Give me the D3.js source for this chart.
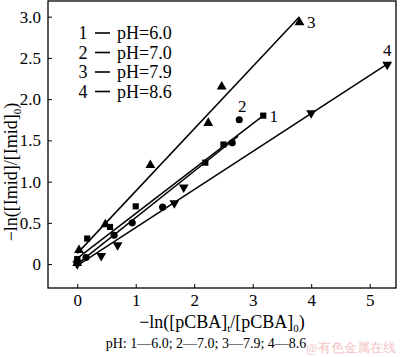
<!DOCTYPE html>
<html><head><meta charset="utf-8">
<script src="https://cdn.jsdelivr.net/npm/d3@7"></script>
<style>body{margin:0;background:#fff}svg{display:block}text{font-family:"Liberation Serif","Times New Roman",serif}</style>
</head><body>
<script>
const xTicks = [0,1,2,3,4,5];
const yTicks = [0,0.5,1.0,1.5,2.0,2.5,3.0];
const yTickLabels = ["0","0.5","1.0","1.5","2.0","2.5","3.0"];
const seriesNames = ["1","2","3","4"];
const legendLabels = ["pH=6.0","pH=7.0","pH=7.9","pH=8.6"];
const markers = ["square","circle","triUp","triDown"];
const pts1 = [[0,0.06],[0.17,0.31],[0.56,0.45],[1.0,0.70],[2.19,1.23],[2.5,1.45],[3.18,1.80]];
const pts2 = [[0,0.04],[0.15,0.08],[0.63,0.35],[0.94,0.50],[1.46,0.69],[2.65,1.47],[2.77,1.75]];
const pts3 = [[0,0.01],[0.03,0.17],[0.48,0.48],[1.25,1.20],[2.24,1.71],[2.47,2.15],[3.8,2.93]];
const pts4 = [[0,0.0],[0.41,0.10],[0.69,0.23],[1.66,0.74],[1.82,0.93],[4.0,1.83],[5.3,2.42]];
const fit1 = [[0,0.07],[3.18,1.80]];
const fit2 = [[0,0.0],[2.75,1.55]];
const fit3 = [[0,0.13],[3.8,3.0]];
const fit4 = [[0,-0.02],[5.35,2.45]];
const endLabelPos = [[3.36,1.80],[2.82,1.92],[4.0,2.94],[5.3,2.6]];
const caption = "pH: 1\u20146.0; 2\u20147.0; 3\u20147.9; 4\u20148.6";
const watermark = "@有色金属在线";

const W=400,H=357;
const m={l:48,r:396,t:1,b:288};
const svg=d3.select("body").append("svg").attr("width",W).attr("height",H);
const x=d3.scaleLinear().domain([-0.5,5.45]).range([m.l,m.r]);
const y=d3.scaleLinear().domain([-0.29,3.19]).range([m.b,m.t]);

// frame
svg.append("rect").attr("x",m.l).attr("y",m.t).attr("width",m.r-m.l).attr("height",m.b-m.t)
  .attr("fill","none").attr("stroke","#000").attr("stroke-width",1.3);

// axes (inward ticks)
const xAxis=d3.axisBottom(x).tickValues(xTicks).tickSizeInner(-4).tickSizeOuter(0).tickPadding(6).tickFormat(d3.format("d"));
const gx=svg.append("g").attr("transform",`translate(0,${m.b})`).call(xAxis);
gx.select(".domain").remove();
gx.selectAll("text").attr("font-size",17).attr("font-family","Liberation Serif").attr("fill","#000");
gx.selectAll("line").attr("stroke","#000");
const yAxis=d3.axisLeft(y).tickValues(yTicks).tickSizeInner(-4).tickSizeOuter(0).tickPadding(7).tickFormat((d,i)=>yTickLabels[i]);
const gy=svg.append("g").attr("transform",`translate(${m.l},0)`).call(yAxis);
gy.select(".domain").remove();
gy.selectAll("text").attr("font-size",17).attr("font-family","Liberation Serif").attr("fill","#000");
gy.selectAll("line").attr("stroke","#000");

// fit lines
const line=d3.line().x(d=>x(d[0])).y(d=>y(d[1]));
[fit1,fit2,fit3,fit4].forEach(f=>{
  svg.append("path").attr("d",line(f)).attr("fill","none").attr("stroke","#000").attr("stroke-width",1.5);
});

// markers
const sym={square:d3.symbolSquare,circle:d3.symbolCircle,triUp:d3.symbolTriangle,triDown:d3.symbolTriangle};
const size={square:38,circle:40,triUp:42,triDown:42};
[pts1,pts2,pts3,pts4].forEach((pts,i)=>{
  const k=markers[i];
  svg.append("g").selectAll("path").data(pts).join("path")
    .attr("d",d3.symbol().type(sym[k]).size(size[k]))
    .attr("transform",d=>`translate(${x(d[0])},${y(d[1])})${k==="triDown"?" rotate(180)":""}`)
    .attr("fill","#000");
});

// end labels
endLabelPos.forEach((p,i)=>{
  svg.append("text").attr("x",x(p[0])).attr("y",y(p[1])).attr("dy","0.35em")
    .attr("font-size",17).attr("text-anchor","middle").text(seriesNames[i]);
});

// legend
const legY=[33,52.5,72,91.5];
legendLabels.forEach((t,i)=>{
  svg.append("text").attr("x",83).attr("y",legY[i]).attr("dy","0.35em").attr("text-anchor","middle").attr("font-size",18).text(seriesNames[i]);
  svg.append("line").attr("x1",95).attr("x2",110).attr("y1",legY[i]).attr("y2",legY[i]).attr("stroke","#000").attr("stroke-width",1.6);
  svg.append("text").attr("x",117).attr("y",legY[i]).attr("dy","0.35em").attr("font-size",18).text(t);
});

// x axis title
const xt=svg.append("text").attr("x",(m.l+m.r)/2).attr("y",328).attr("text-anchor","middle").attr("font-size",18);
xt.append("tspan").text("\u2212ln([pCBA]");
xt.append("tspan").attr("font-size",11).attr("dy",4).text("t");
xt.append("tspan").attr("dy",-4).text("/[pCBA]");
xt.append("tspan").attr("font-size",11).attr("dy",4).text("0");
xt.append("tspan").attr("dy",-4).text(")");

// y axis title
const yt=svg.append("text").attr("transform","translate(17,172) rotate(-90)").attr("text-anchor","middle").attr("font-size",18);
yt.append("tspan").text("\u2212ln([Imid]/[Imid]");
yt.append("tspan").attr("font-size",11).attr("dy",4).text("0");
yt.append("tspan").attr("dy",-4).text(")");

// caption
svg.append("text").attr("x",206).attr("y",348).attr("text-anchor","middle").attr("font-size",14).text(caption);
// watermark
svg.append("text").attr("x",306).attr("y",352).attr("font-size",12.5).attr("fill","#f2c4c4")
  .attr("font-family","Noto Sans CJK SC").text(watermark);
</script>
</body></html>
